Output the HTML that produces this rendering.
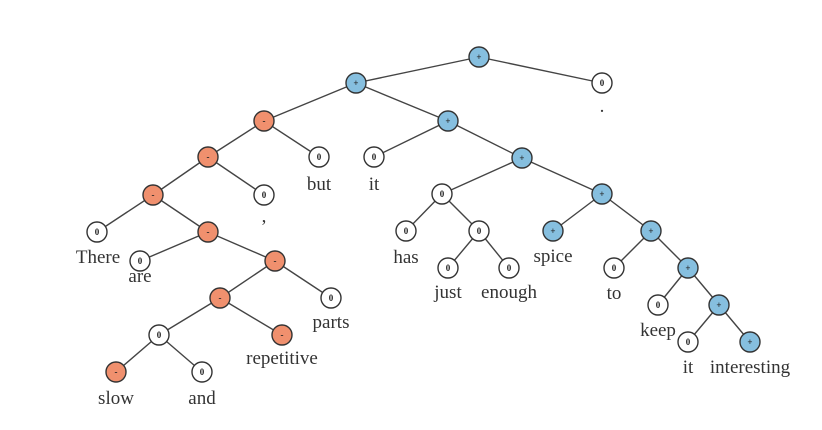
<!DOCTYPE html>
<html><head><meta charset="utf-8"><style>
html,body{margin:0;padding:0;background:#fff}
svg{display:block}
text{font-family:"Liberation Serif",serif}
.l{font-size:19px;fill:#333;text-anchor:middle}
.s{font-size:9px;font-weight:bold;text-anchor:middle;fill:#222;font-family:"Liberation Sans",sans-serif}
</style></head><body>
<svg width="822" height="430" viewBox="0 0 822 430" xmlns="http://www.w3.org/2000/svg">
<g stroke="#444" stroke-width="1.4">
<line x1="479" y1="57" x2="356" y2="83"/><line x1="479" y1="57" x2="602" y2="83"/>
<line x1="356" y1="83" x2="264" y2="121"/><line x1="356" y1="83" x2="448" y2="121"/>
<line x1="264" y1="121" x2="208" y2="157"/><line x1="264" y1="121" x2="319" y2="157"/>
<line x1="448" y1="121" x2="374" y2="157"/><line x1="448" y1="121" x2="522" y2="158"/>
<line x1="208" y1="157" x2="153" y2="195"/><line x1="208" y1="157" x2="264" y2="195"/>
<line x1="153" y1="195" x2="97" y2="232"/><line x1="153" y1="195" x2="208" y2="232"/>
<line x1="208" y1="232" x2="140" y2="261"/><line x1="208" y1="232" x2="275" y2="261"/>
<line x1="275" y1="261" x2="220" y2="298"/><line x1="275" y1="261" x2="331" y2="298"/>
<line x1="220" y1="298" x2="159" y2="335"/><line x1="220" y1="298" x2="282" y2="335"/>
<line x1="159" y1="335" x2="116" y2="372"/><line x1="159" y1="335" x2="202" y2="372"/>
<line x1="522" y1="158" x2="442" y2="194"/><line x1="522" y1="158" x2="602" y2="194"/>
<line x1="442" y1="194" x2="406" y2="231"/><line x1="442" y1="194" x2="479" y2="231"/>
<line x1="479" y1="231" x2="448" y2="268"/><line x1="479" y1="231" x2="509" y2="268"/>
<line x1="602" y1="194" x2="553" y2="231"/><line x1="602" y1="194" x2="651" y2="231"/>
<line x1="651" y1="231" x2="614" y2="268"/><line x1="651" y1="231" x2="688" y2="268"/>
<line x1="688" y1="268" x2="658" y2="305"/><line x1="688" y1="268" x2="719" y2="305"/>
<line x1="719" y1="305" x2="688" y2="342"/><line x1="719" y1="305" x2="750" y2="342"/>
</g>
<g stroke="#333" stroke-width="1.4">
<!-- blue -->
<g fill="#86bfdf">
<circle cx="479" cy="57" r="10"/><circle cx="356" cy="83" r="10"/><circle cx="448" cy="121" r="10"/>
<circle cx="522" cy="158" r="10"/><circle cx="602" cy="194" r="10"/><circle cx="553" cy="231" r="10"/>
<circle cx="651" cy="231" r="10"/><circle cx="688" cy="268" r="10"/><circle cx="719" cy="305" r="10"/>
<circle cx="750" cy="342" r="10"/>
</g>
<g fill="#f0906e">
<circle cx="264" cy="121" r="10"/><circle cx="208" cy="157" r="10"/><circle cx="153" cy="195" r="10"/>
<circle cx="208" cy="232" r="10"/><circle cx="275" cy="261" r="10"/><circle cx="220" cy="298" r="10"/>
<circle cx="282" cy="335" r="10"/><circle cx="116" cy="372" r="10"/>
</g>
<g fill="#fff">
<circle cx="602" cy="83" r="10"/><circle cx="319" cy="157" r="10"/><circle cx="374" cy="157" r="10"/>
<circle cx="264" cy="195" r="10"/><circle cx="97" cy="232" r="10"/><circle cx="140" cy="261" r="10"/>
<circle cx="331" cy="298" r="10"/><circle cx="159" cy="335" r="10"/><circle cx="202" cy="372" r="10"/>
<circle cx="442" cy="194" r="10"/><circle cx="406" cy="231" r="10"/><circle cx="479" cy="231" r="10"/>
<circle cx="448" cy="268" r="10"/><circle cx="509" cy="268" r="10"/><circle cx="614" cy="268" r="10"/>
<circle cx="658" cy="305" r="10"/><circle cx="688" cy="342" r="10"/>
</g>
</g>
<g class="s">
<text x="479" y="60">+</text><text x="356" y="86">+</text><text x="448" y="124">+</text>
<text x="522" y="161">+</text><text x="602" y="197">+</text><text x="553" y="234">+</text>
<text x="651" y="234">+</text><text x="688" y="271">+</text><text x="719" y="308">+</text><text x="750" y="345">+</text>
<text x="264" y="124">-</text><text x="208" y="160">-</text><text x="153" y="198">-</text>
<text x="208" y="235">-</text><text x="275" y="264">-</text><text x="220" y="301">-</text>
<text x="282" y="338">-</text><text x="116" y="375">-</text>
<text x="602" y="86">0</text><text x="319" y="160">0</text><text x="374" y="160">0</text>
<text x="264" y="198">0</text><text x="97" y="235">0</text><text x="140" y="264">0</text>
<text x="331" y="301">0</text><text x="159" y="338">0</text><text x="202" y="375">0</text>
<text x="442" y="197">0</text><text x="406" y="234">0</text><text x="479" y="234">0</text>
<text x="448" y="271">0</text><text x="509" y="271">0</text><text x="614" y="271">0</text>
<text x="658" y="308">0</text><text x="688" y="345">0</text>
</g>
<g class="l">
<text x="602" y="112">.</text>
<text x="319" y="190">but</text><text x="374" y="190">it</text>
<text x="264" y="222">,</text>
<text x="98" y="263">There</text><text x="140" y="282">are</text>
<text x="331" y="328">parts</text><text x="282" y="364">repetitive</text>
<text x="116" y="404">slow</text><text x="202" y="404">and</text>
<text x="406" y="263">has</text><text x="448" y="298">just</text><text x="509" y="298">enough</text>
<text x="553" y="262">spice</text><text x="614" y="299">to</text>
<text x="658" y="336">keep</text><text x="688" y="373">it</text><text x="750" y="373">interesting</text>
</g>
</svg>
</body></html>
